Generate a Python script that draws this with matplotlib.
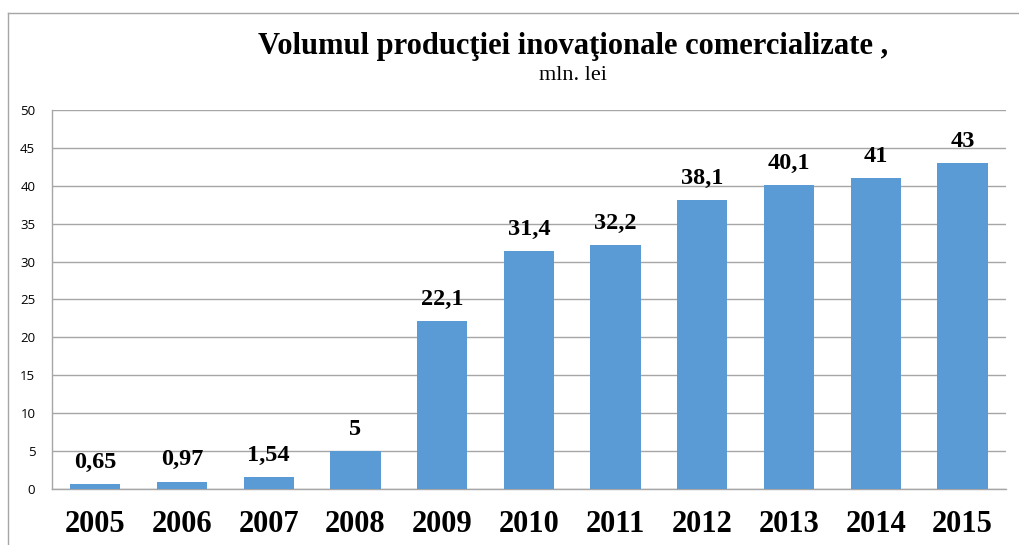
import numpy as np
import matplotlib
matplotlib.use("Agg")
import matplotlib.pyplot as plt
from matplotlib.lines import Line2D

years = ["2005", "2006", "2007", "2008", "2009", "2010", "2011", "2012", "2013", "2014", "2015"]
values = [0.65, 0.97, 1.54, 5, 22.1, 31.4, 32.2, 38.1, 40.1, 41, 43]
value_labels = ["0,65", "0,97", "1,54", "5", "22,1", "31,4", "32,2", "38,1", "40,1", "41", "43"]
y_ticks = [0, 5, 10, 15, 20, 25, 30, 35, 40, 45, 50]

fig = plt.figure(figsize=(10.19, 5.45), dpi=100)
ax = fig.add_axes([0.051, 0.103, 0.936, 0.695])

x = np.arange(len(years))
bars = ax.bar(x, values, width=0.58, color="#5B9BD5", zorder=3)

ax.set_xlim(-0.5, len(years) - 0.5)
ax.set_ylim(0, 50)
ax.set_yticks(y_ticks)
ax.set_yticklabels([str(t) for t in y_ticks], fontsize=9.5, family="Open Sans")
ax.set_xticks(x)
ax.set_xticklabels(years, fontsize=22, family="Liberation Serif", fontweight="bold")
ax.tick_params(axis="y", length=0, pad=12)
ax.tick_params(axis="x", length=0, pad=15)

ax.grid(axis="y", color="#A6A6A6", linewidth=1, zorder=0)
for side in ["top", "right"]:
    ax.spines[side].set_visible(False)
for side in ["left", "bottom"]:
    ax.spines[side].set_color("#A6A6A6")
    ax.spines[side].set_linewidth(1)

for b, lab in zip(bars, value_labels):
    ax.annotate(lab, (b.get_x() + b.get_width() / 2, b.get_height()),
                xytext=(0, 8), textcoords="offset points", ha="center", va="bottom",
                fontsize=17.5, fontweight="bold", family="Liberation Serif")

fig.text(0.562, 0.914, "Volumul producţiei inovaţionale comercializate ,", ha="center", va="center",
         fontsize=22, fontweight="bold", family="Liberation Serif")
fig.text(0.562, 0.862, "mln. lei", ha="center", va="center", fontsize=16, family="Liberation Serif")

# outer chart frame
fig.add_artist(Line2D([8 / 1019, 8 / 1019], [0, 1 - 13 / 545], transform=fig.transFigure, color="#A6A6A6", lw=1))
fig.add_artist(Line2D([8 / 1019, 1], [1 - 13 / 545, 1 - 13 / 545], transform=fig.transFigure, color="#A6A6A6", lw=1))

fig.savefig("out.png", dpi=100)
